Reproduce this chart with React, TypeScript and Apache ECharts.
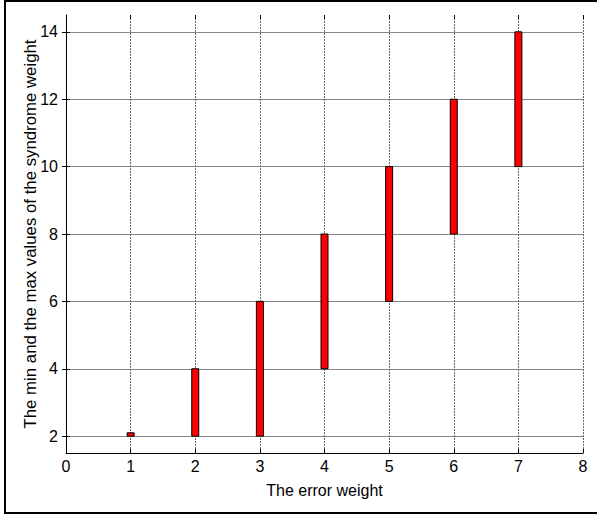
import React, { useEffect, useRef } from "react";
import * as echarts from "echarts";

const errorWeights = [1, 2, 3, 4, 5, 6, 7];
const minValues = [2, 2, 2, 4, 6, 8, 10];
const maxValues = [2.1, 4, 6, 8, 10, 12, 14];
const yTickValues = [2, 4, 6, 8, 10, 12, 14];

const FONT = "Liberation Sans, Arial, sans-serif";

export default function App() {
  const ref = useRef<HTMLDivElement>(null);
  useEffect(() => {
    if (!ref.current) return;
    const chart = echarts.init(ref.current, null, { renderer: "svg" });
    const data = errorWeights.map((x, i) => [x, minValues[i], maxValues[i]]);
    const grid = { left: 66, right: 14, top: 15, bottom: 62 };
    chart.setOption({
      animation: false,
      backgroundColor: "#ffffff",
      grid,
      xAxis: [
        {
          type: "value",
          min: 0,
          max: 8,
          interval: 1,
          position: "bottom",
          name: "The error weight",
          nameLocation: "middle",
          nameGap: 29,
          nameTextStyle: { color: "#000", fontSize: 16, fontFamily: FONT },
          axisLine: { show: true, lineStyle: { color: "#000", width: 1 } },
          axisTick: { show: true, inside: true, length: 4, lineStyle: { color: "#000" } },
          axisLabel: { color: "#000", fontSize: 16, fontFamily: FONT, margin: 5 },
          splitLine: { show: true, lineStyle: { color: "#666", type: [2, 1], width: 1 } },
        },
        {
          type: "value",
          min: 0,
          max: 8,
          interval: 1,
          position: "top",
          axisLine: { show: false },
          axisTick: { show: true, inside: true, length: 4, lineStyle: { color: "#000" } },
          axisLabel: { show: false },
          splitLine: { show: false },
        },
      ],
      yAxis: [
        {
          type: "value",
          min: 1.5,
          max: 14.5,
          position: "left",
          name: "The min and the max values of the syndrome weight",
          nameLocation: "middle",
          nameGap: 27,
          nameMoveOverlap: false,
          nameTextStyle: { color: "#000", fontSize: 16.8, fontFamily: FONT },
          axisLine: { show: true, lineStyle: { color: "#000", width: 1 } },
          axisTick: { show: true, inside: true, length: 4, customValues: yTickValues, lineStyle: { color: "#000" } },
          axisLabel: { color: "#000", fontSize: 16, fontFamily: FONT, margin: 8, customValues: yTickValues },
          splitLine: { show: true, lineStyle: { color: "#888", width: 1 } },
        },
        {
          type: "value",
          min: 1.5,
          max: 14.5,
          position: "right",
          axisLine: { show: false },
          axisTick: { show: true, inside: true, length: 4, customValues: yTickValues, lineStyle: { color: "#000" } },
          axisLabel: { show: false, customValues: yTickValues },
          splitLine: { show: false },
        },
      ],
      series: [
        {
          type: "custom",
          xAxisIndex: 0,
          yAxisIndex: 0,
          data,
          renderItem: (params: any, api: any) => {
            const x = api.value(0);
            const lo = api.coord([x, api.value(1)]);
            const hi = api.coord([x, api.value(2)]);
            const w = 7;
            return {
              type: "rect",
              shape: { x: lo[0] - w / 2, y: hi[1], width: w, height: lo[1] - hi[1] },
              style: { fill: "#ff0000", stroke: "#000", lineWidth: 1 },
            };
          },
        },
      ],
      graphic: [
        {
          type: "rect",
          shape: { x: 5, y: 1, width: 600, height: 512 },
          style: { fill: "none", stroke: "#000", lineWidth: 2 },
          silent: true,
        },
      ],
    });
    return () => chart.dispose();
  }, []);
  return (
    <div
      ref={ref}
      style={{ position: "fixed", left: 0, top: 0, width: 597, height: 515 }}
    />
  );
}
